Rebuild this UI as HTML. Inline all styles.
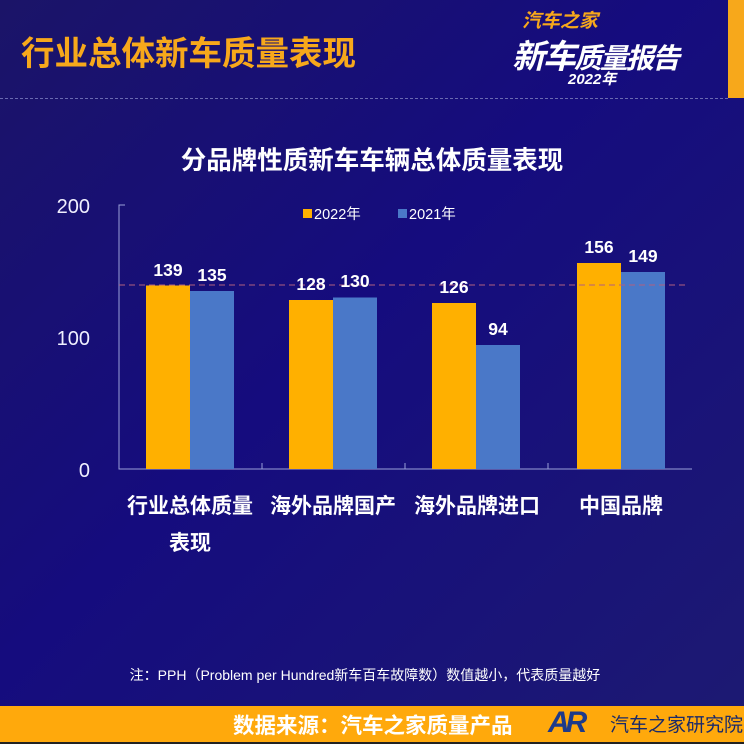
<!DOCTYPE html><html><head><meta charset="utf-8"><style>
body{margin:0;width:744px;height:744px;overflow:hidden;font-family:"Liberation Sans","Noto Sans CJK SC",sans-serif;}
#bg{position:absolute;left:0;top:0;width:744px;height:744px;background:linear-gradient(135deg,#1b1468 0%,#150c7e 45%,#1d1a72 100%);}
.t{position:absolute;white-space:nowrap;}
</style></head><body><div id="bg"></div>
<div style="position:absolute;left:728px;top:0;width:16px;height:98px;background:#f7a81b"></div>
<div style="position:absolute;left:0;top:98px;width:728px;border-top:1px dashed #6a6ab0"></div>
<div class="t" style="left:21px;top:26px;font-size:33.5px;font-weight:bold;color:#f7a81b">行业总体新车质量表现</div>
<div class="t" style="left:522px;top:6px;font-size:19px;font-weight:bold;font-style:italic;color:#f7a81b">汽车之家</div>
<div class="t" style="left:512px;top:30px;font-size:33px;font-weight:bold;font-style:italic;color:#fff;letter-spacing:-2px">新车<span style="font-size:28px">质量报告</span></div>
<div class="t" style="left:568px;top:68px;font-size:15px;font-weight:bold;font-style:italic;color:#fff">2022年</div>
<div class="t" style="left:0;width:744px;text-align:center;top:140px;font-size:25.5px;font-weight:bold;color:#fff">分品牌性质新车车辆总体质量表现</div>
<svg style="position:absolute;left:0;top:0" width="744" height="744">
<g fill="#f0f0ff" font-size="20" text-anchor="end" font-family="Liberation Sans,sans-serif">
<text x="90" y="213">200</text><text x="90" y="345">100</text><text x="90" y="477">0</text></g>
<path d="M125 205H119V469H692M262 469V463M405 469V463M548 469V463" stroke="#9aa0d8" stroke-width="1" fill="none"/>
<rect x="303" y="209" width="9" height="9" fill="#ffb000"/><text x="314" y="219" font-size="14.5" fill="#fff">2022年</text>
<rect x="398" y="209" width="9" height="9" fill="#4a78c8"/><text x="409" y="219" font-size="14.5" fill="#fff">2021年</text>
<g fill="#ffb000"><rect x="146" y="285.5" width="44" height="183.5"/><rect x="289" y="300" width="44" height="169"/><rect x="432" y="303" width="44" height="166"/><rect x="577" y="263" width="44" height="206"/></g>
<g fill="#4a78c8"><rect x="190" y="291" width="44" height="178"/><rect x="333" y="297.5" width="44" height="171.5"/><rect x="476" y="345" width="44" height="124"/><rect x="621" y="272" width="44" height="197"/></g>
<line x1="119" y1="285" x2="686" y2="285" stroke="#b06080" stroke-dasharray="6,4" stroke-width="1"/>
<g fill="#fff" font-size="17.5" font-weight="bold" text-anchor="middle">
<text x="168" y="276">139</text><text x="212" y="281">135</text><text x="311" y="290">128</text><text x="355" y="287">130</text>
<text x="454" y="293">126</text><text x="498" y="335">94</text><text x="599" y="253">156</text><text x="643" y="262">149</text></g>
<g fill="#fff" font-size="21" font-weight="bold" text-anchor="middle" font-family="Liberation Sans,Noto Sans CJK SC,sans-serif">
<text x="190" y="513">行业总体质量</text><text x="190" y="550">表现</text><text x="333" y="513">海外品牌国产</text><text x="477" y="513">海外品牌进口</text><text x="621" y="513">中国品牌</text></g>
<text x="365" y="680" text-anchor="middle" font-size="14" fill="#fff" font-family="Liberation Sans,Noto Sans CJK SC,sans-serif">注：PPH（Problem per Hundred新车百车故障数）数值越小，代表质量越好</text>
</svg>
<div style="position:absolute;left:0;top:706px;width:744px;height:36px;background:#ffa90c;border-bottom:2px solid #222"></div>
<div class="t" style="left:233px;top:709px;font-size:21.5px;font-weight:bold;color:#fff">数据来源：汽车之家质量产品</div>
<div class="t" style="left:548px;top:706px;font-size:30px;font-weight:bold;font-style:italic;color:#1d3a8a;letter-spacing:-4px">AR</div>
<div class="t" style="left:610px;top:710px;font-size:19px;color:#1a2a6a">汽车之家研究院</div>
</body></html>
